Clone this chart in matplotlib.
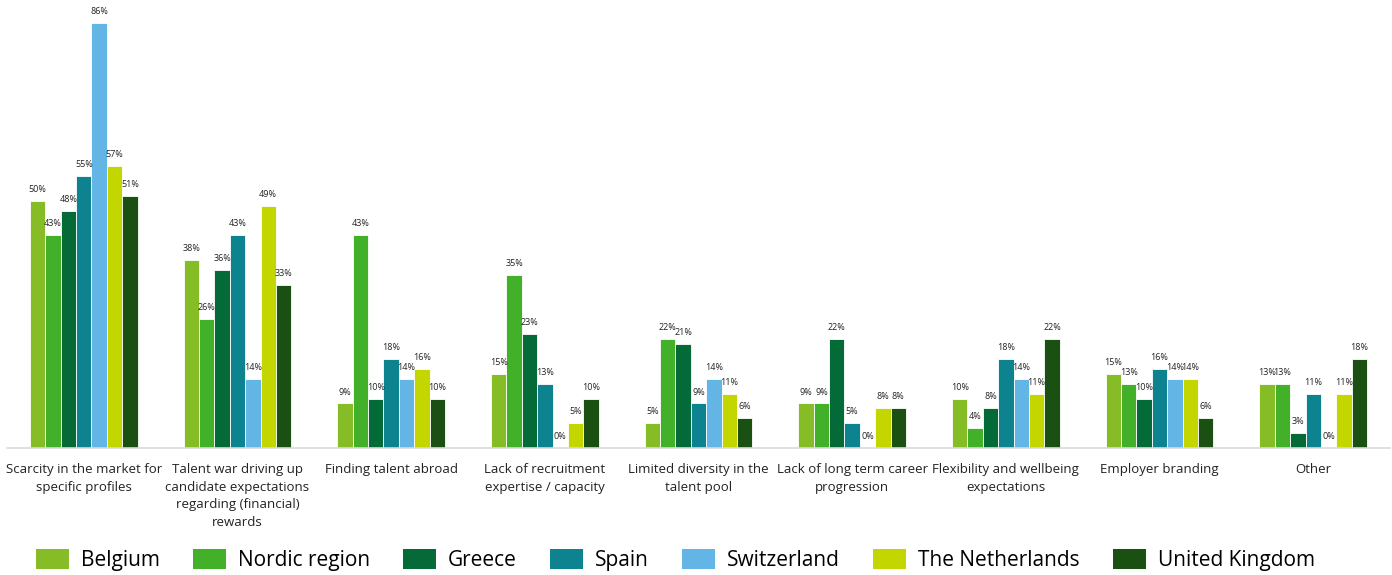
import matplotlib
matplotlib.use("Agg")
import matplotlib.pyplot as plt
import numpy as np

categories = [
    "Scarcity in the market for\nspecific profiles",
    "Talent war driving up\ncandidate expectations\nregarding (financial)\nrewards",
    "Finding talent abroad",
    "Lack of recruitment\nexpertise / capacity",
    "Limited diversity in the\ntalent pool",
    "Lack of long term career\nprogression",
    "Flexibility and wellbeing\nexpectations",
    "Employer branding",
    "Other",
]

series_names = ["Belgium", "Nordic region", "Greece", "Spain",
                "Switzerland", "The Netherlands", "United Kingdom"]

belgium = [50, 38, 9, 15, 5, 9, 10, 15, 13]
nordic = [43, 26, 43, 35, 22, 9, 4, 13, 13]
greece = [48, 36, 10, 23, 21, 22, 8, 10, 3]
spain = [55, 43, 18, 13, 9, 5, 18, 16, 11]
switzerland = [86, 14, 14, 0, 14, 0, 14, 14, 0]
netherlands = [57, 49, 16, 5, 11, 8, 11, 14, 11]
united_kingdom = [51, 33, 10, 10, 6, 8, 22, 6, 18]

series = [belgium, nordic, greece, spain, switzerland, netherlands, united_kingdom]
colors = ["#86BC25", "#43B02A", "#046A38", "#0D8390",
          "#62B5E5", "#C4D600", "#1A5011"]

plt.rcParams["font.family"] = ["Open Sans", "DejaVu Sans"]

fig = plt.figure(figsize=(13.92, 5.75), dpi=100)
ax = fig.add_axes([0.005, 0.2209, 0.9936, 0.757])

n = len(series)
x = np.arange(len(categories))
group_w = 0.70
bw = group_w / n

for i, (name, vals, col) in enumerate(zip(series_names, series, colors)):
    pos = x - group_w / 2 + bw * (i + 0.5)
    ax.bar(pos, vals, width=bw, color=col, edgecolor="white",
           linewidth=0.6, label=name)
    for p, v in zip(pos, vals):
        ax.text(p, v + 1.4, f"{v}%", ha="center", va="bottom",
                fontsize=6.5, color="#222222")

ax.set_xlim(-0.5, len(categories) - 0.5)
ax.set_ylim(0, 88)
ax.set_yticks([])
ax.set_xticks(x)
ax.set_xticklabels(categories, fontsize=9.5, color="#222222",
                   linespacing=1.45, va="top")
ax.tick_params(axis="x", length=0, pad=11)
for s in ["top", "right", "left"]:
    ax.spines[s].set_visible(False)
ax.spines["bottom"].set_color("#D9D9D9")
ax.spines["bottom"].set_linewidth(1.2)

handles, labels = ax.get_legend_handles_labels()
leg = fig.legend(handles, labels, loc="center", ncol=7,
                 bbox_to_anchor=(0.485, 0.026), frameon=False,
                 fontsize=15, handlelength=1.6, handleheight=1.1,
                 handletextpad=0.55, columnspacing=1.6)
for h in leg.legend_handles:
    h.set_edgecolor("none")

fig.savefig("out.png", dpi=100)
